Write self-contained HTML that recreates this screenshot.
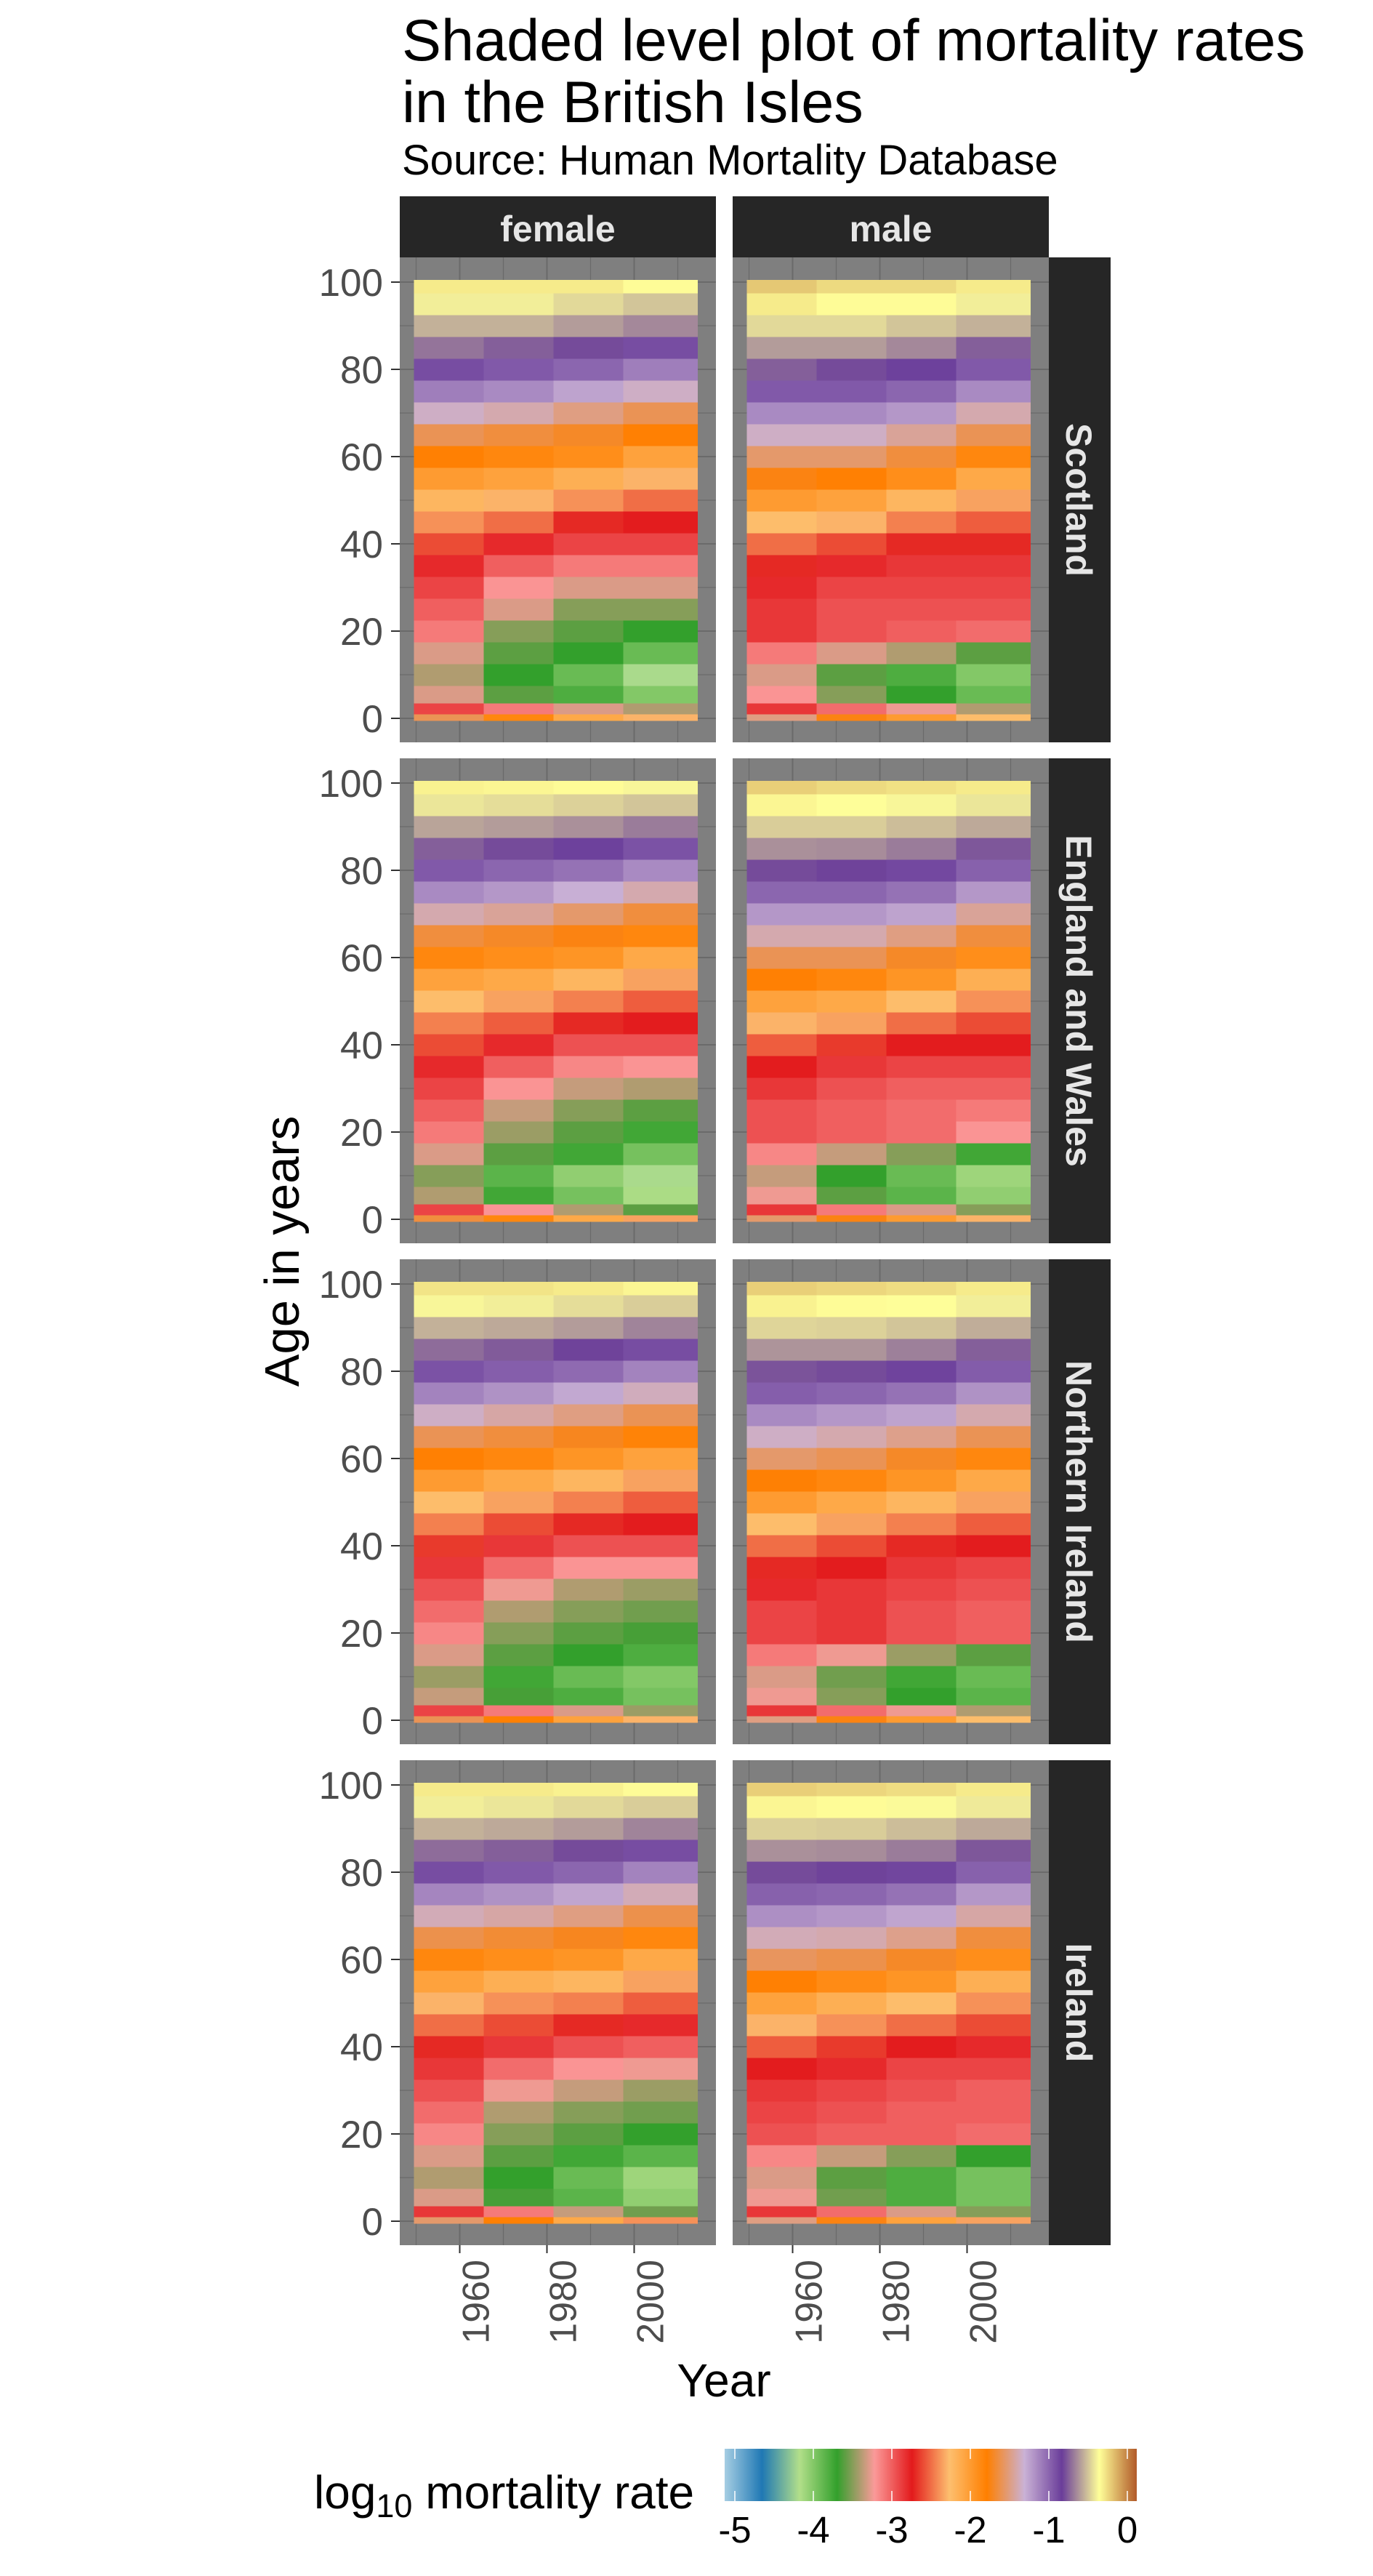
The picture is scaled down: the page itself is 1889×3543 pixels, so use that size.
<!DOCTYPE html>
<html><head><meta charset="utf-8"><style>
html,body{margin:0;padding:0;background:#fff;}
svg{display:block;font-family:"Liberation Sans",Arial,sans-serif;}
</style></head><body>
<svg id="chart" width="1889" height="3543" viewBox="0 0 1889 3543" xmlns="http://www.w3.org/2000/svg">
<text x="553" y="83" font-size="81" fill="#000">Shaded level plot of mortality rates</text>
<text x="553" y="168" font-size="81" fill="#000">in the British Isles</text>
<text x="553" y="240" font-size="58" fill="#000">Source: Human Mortality Database</text>
<text transform="translate(411,1721) rotate(-90)" text-anchor="middle" font-size="67" fill="#000">Age in years</text>
<text x="996" y="3296" text-anchor="middle" font-size="64" fill="#000">Year</text>
<text x="432" y="3450" font-size="64" fill="#000">log<tspan font-size="45" dy="12">10</tspan><tspan dy="-12"> mortality rate</tspan></text>
<g id="panels"></g>
<g id="legend"></g>
</svg>
<script>
const paletteColors = ["#a6cee3","#1f78b4","#b2df8a","#33a02c","#fb9a99","#e31a1c","#fdbf6f","#ff7f00","#cab2d6","#6a3d9a","#ffff99","#b15928"];
const legendTicks = [-5,-4,-3,-2,-1,0];
const legendTickLabels = ["-5","-4","-3","-2","-1","0"];
const sexes = ["female","male"];
const countries = ["Scotland","England and Wales","Northern Ireland","Ireland"];
const ages = [0,2,5,10,15,20,25,30,35,40,45,50,55,60,65,70,75,80,85,90,95,100];
const yearStart = [1950,1966,1982,1998];
const yearEnd = [1965,1981,1997,2014];
const yearTicks = [1960,1980,2000];
const yearTickLabels = ["1960","1980","2000"];
const ageTicks = [0,20,40,60,80,100];
const ageTickLabels = ["0","20","40","60","80","100"];

const scotlandFemale = [[-1.6,-1.85,-2.1,-2.3],[-2.9,-3.1,-3.3,-3.4],[-3.3,-3.6,-3.8,-4.0],[-3.4,-3.7,-3.9,-4.2],[-3.3,-3.6,-3.7,-3.9],[-3.1,-3.5,-3.6,-3.7],[-3.0,-3.3,-3.5,-3.5],[-2.9,-3.2,-3.3,-3.3],[-2.8,-3.0,-3.1,-3.1],[-2.6,-2.8,-2.9,-2.9],[-2.4,-2.5,-2.7,-2.75],[-2.2,-2.3,-2.4,-2.5],[-2.0,-2.05,-2.15,-2.3],[-1.8,-1.85,-1.9,-2.05],[-1.6,-1.65,-1.7,-1.8],[-1.35,-1.4,-1.5,-1.6],[-1.1,-1.15,-1.25,-1.35],[-0.9,-0.95,-1.0,-1.1],[-0.7,-0.75,-0.8,-0.9],[-0.55,-0.55,-0.6,-0.65],[-0.4,-0.4,-0.45,-0.5],[-0.3,-0.3,-0.3,-0.35]];
const scotlandMale = [[-1.5,-1.75,-2.0,-2.25],[-2.85,-3.05,-3.25,-3.4],[-3.2,-3.5,-3.7,-3.9],[-3.3,-3.6,-3.8,-4.0],[-3.1,-3.3,-3.4,-3.6],[-2.85,-2.95,-3.0,-3.05],[-2.85,-2.95,-2.95,-2.95],[-2.8,-2.9,-2.9,-2.9],[-2.7,-2.8,-2.85,-2.85],[-2.5,-2.6,-2.7,-2.7],[-2.25,-2.3,-2.45,-2.55],[-2.0,-2.05,-2.2,-2.35],[-1.75,-1.8,-1.9,-2.1],[-1.55,-1.55,-1.65,-1.85],[-1.35,-1.35,-1.45,-1.6],[-1.15,-1.15,-1.2,-1.4],[-0.95,-0.95,-1.0,-1.15],[-0.75,-0.8,-0.85,-0.95],[-0.6,-0.6,-0.65,-0.75],[-0.45,-0.45,-0.5,-0.55],[-0.3,-0.35,-0.35,-0.4],[-0.2,-0.25,-0.25,-0.3]];
const englandFemale = [[-1.65,-1.85,-2.1,-2.35],[-2.9,-3.2,-3.4,-3.6],[-3.4,-3.75,-3.95,-4.15],[-3.5,-3.85,-4.05,-4.2],[-3.3,-3.6,-3.75,-3.95],[-3.1,-3.45,-3.6,-3.75],[-3.0,-3.35,-3.5,-3.6],[-2.9,-3.2,-3.35,-3.4],[-2.8,-3.0,-3.15,-3.2],[-2.6,-2.8,-2.95,-2.95],[-2.45,-2.55,-2.7,-2.75],[-2.25,-2.35,-2.45,-2.55],[-2.05,-2.1,-2.2,-2.35],[-1.85,-1.9,-1.95,-2.1],[-1.65,-1.7,-1.75,-1.85],[-1.4,-1.45,-1.55,-1.65],[-1.15,-1.2,-1.3,-1.4],[-0.95,-1.0,-1.05,-1.15],[-0.75,-0.8,-0.85,-0.92],[-0.58,-0.6,-0.63,-0.68],[-0.42,-0.44,-0.47,-0.5],[-0.32,-0.33,-0.35,-0.38]];
const englandMale = [[-1.55,-1.75,-2.0,-2.3],[-2.85,-3.1,-3.3,-3.5],[-3.25,-3.6,-3.85,-4.05],[-3.35,-3.7,-3.9,-4.1],[-3.15,-3.35,-3.5,-3.75],[-2.95,-3.0,-3.05,-3.2],[-2.95,-3.0,-3.05,-3.1],[-2.85,-2.95,-3.0,-3.0],[-2.75,-2.85,-2.9,-2.9],[-2.55,-2.65,-2.75,-2.75],[-2.3,-2.35,-2.5,-2.6],[-2.05,-2.1,-2.25,-2.4],[-1.8,-1.85,-1.95,-2.15],[-1.6,-1.6,-1.7,-1.9],[-1.4,-1.4,-1.5,-1.65],[-1.2,-1.2,-1.25,-1.45],[-1.0,-1.0,-1.05,-1.2],[-0.8,-0.82,-0.88,-0.98],[-0.63,-0.64,-0.68,-0.77],[-0.48,-0.48,-0.52,-0.57],[-0.33,-0.36,-0.38,-0.42],[-0.22,-0.25,-0.27,-0.3]];
const nirelandFemale = [[-1.6,-1.8,-2.05,-2.3],[-2.9,-3.1,-3.3,-3.45],[-3.35,-3.65,-3.8,-3.95],[-3.45,-3.75,-3.9,-4.0],[-3.3,-3.6,-3.7,-3.8],[-3.15,-3.5,-3.6,-3.65],[-3.05,-3.4,-3.5,-3.55],[-2.95,-3.25,-3.4,-3.45],[-2.85,-3.05,-3.2,-3.2],[-2.65,-2.85,-2.95,-2.95],[-2.45,-2.6,-2.7,-2.75],[-2.25,-2.35,-2.45,-2.55],[-2.0,-2.1,-2.2,-2.35],[-1.8,-1.85,-1.95,-2.05],[-1.6,-1.65,-1.72,-1.82],[-1.35,-1.42,-1.5,-1.6],[-1.12,-1.18,-1.27,-1.37],[-0.92,-0.97,-1.02,-1.12],[-0.72,-0.76,-0.82,-0.9],[-0.55,-0.57,-0.6,-0.66],[-0.38,-0.4,-0.44,-0.48],[-0.28,-0.28,-0.3,-0.33]];
const nirelandMale = [[-1.5,-1.75,-2.0,-2.25],[-2.85,-3.05,-3.25,-3.4],[-3.25,-3.5,-3.7,-3.85],[-3.3,-3.55,-3.75,-3.9],[-3.1,-3.25,-3.45,-3.6],[-2.9,-2.85,-2.95,-3.0],[-2.9,-2.85,-2.95,-3.0],[-2.8,-2.85,-2.9,-2.95],[-2.7,-2.75,-2.85,-2.9],[-2.5,-2.6,-2.7,-2.75],[-2.25,-2.35,-2.45,-2.55],[-2.0,-2.1,-2.2,-2.35],[-1.78,-1.85,-1.95,-2.1],[-1.55,-1.6,-1.7,-1.85],[-1.35,-1.4,-1.48,-1.6],[-1.15,-1.2,-1.25,-1.4],[-0.97,-1.0,-1.05,-1.18],[-0.78,-0.8,-0.86,-0.96],[-0.62,-0.62,-0.67,-0.75],[-0.46,-0.47,-0.5,-0.56],[-0.32,-0.35,-0.36,-0.4],[-0.22,-0.24,-0.26,-0.3]];
const irelandFemale = [[-1.55,-1.8,-2.1,-2.4],[-2.85,-3.1,-3.35,-3.55],[-3.3,-3.65,-3.85,-4.05],[-3.4,-3.7,-3.9,-4.1],[-3.3,-3.6,-3.75,-3.85],[-3.15,-3.5,-3.6,-3.7],[-3.05,-3.4,-3.5,-3.55],[-2.95,-3.25,-3.35,-3.45],[-2.85,-3.05,-3.2,-3.25],[-2.7,-2.85,-2.95,-3.0],[-2.5,-2.6,-2.7,-2.8],[-2.3,-2.4,-2.45,-2.55],[-2.05,-2.15,-2.2,-2.35],[-1.85,-1.9,-1.95,-2.1],[-1.62,-1.67,-1.72,-1.85],[-1.38,-1.42,-1.5,-1.62],[-1.13,-1.18,-1.26,-1.38],[-0.9,-0.95,-1.0,-1.12],[-0.72,-0.75,-0.8,-0.9],[-0.55,-0.57,-0.6,-0.66],[-0.4,-0.42,-0.45,-0.48],[-0.3,-0.3,-0.32,-0.35]];
const irelandMale = [[-1.5,-1.75,-2.05,-2.35],[-2.85,-3.05,-3.3,-3.5],[-3.25,-3.55,-3.8,-3.95],[-3.3,-3.6,-3.8,-3.95],[-3.15,-3.35,-3.5,-3.7],[-2.95,-3.0,-3.0,-3.05],[-2.9,-2.95,-3.0,-3.0],[-2.85,-2.9,-2.95,-3.0],[-2.75,-2.8,-2.9,-2.9],[-2.55,-2.65,-2.75,-2.8],[-2.3,-2.4,-2.5,-2.6],[-2.05,-2.15,-2.25,-2.4],[-1.8,-1.88,-1.95,-2.15],[-1.58,-1.62,-1.7,-1.9],[-1.38,-1.4,-1.48,-1.65],[-1.17,-1.2,-1.26,-1.42],[-0.98,-1.0,-1.05,-1.2],[-0.8,-0.82,-0.87,-0.98],[-0.63,-0.64,-0.68,-0.77],[-0.47,-0.48,-0.52,-0.57],[-0.33,-0.35,-0.37,-0.41],[-0.22,-0.24,-0.26,-0.3]];
const panelData = [[scotlandFemale,scotlandMale],[englandFemale,englandMale],[nirelandFemale,nirelandMale],[irelandFemale,irelandMale]];

const NS = "http://www.w3.org/2000/svg";
const colX = [550, 1008], panelW = 435;
const rowY = [354, 1043, 1732, 2421], panelH = 667;
const vMin = -5.13, vMax = 0.12;
function xScale(col, year){ return colX[col] + 19.5 + (year - 1949.5) * 6; }
function yScale(row, age){ return rowY[row] + 34 + (100 - age) * 6; }
function legX(v){ return 1011 + (v + 5) * 108; }
function hexToRgb(h){ return [parseInt(h.slice(1,3),16),parseInt(h.slice(3,5),16),parseInt(h.slice(5,7),16)]; }
function colorFor(v){
  let t = (v - vMin) / (vMax - vMin) * (paletteColors.length - 1);
  t = Math.max(0, Math.min(paletteColors.length - 1, t));
  const i = Math.min(paletteColors.length - 2, Math.floor(t)), f = t - i;
  const a = hexToRgb(paletteColors[i]), b = hexToRgb(paletteColors[i+1]);
  return "rgb(" + a.map((c,k)=>Math.round(c + (b[k]-c)*f)).join(",") + ")";
}
function mk(tag, attrs, parent){
  const e = document.createElementNS(NS, tag);
  for (const k in attrs) e.setAttribute(k, attrs[k]);
  parent.appendChild(e);
  return e;
}
const panels = document.getElementById("panels");
// column strips
sexes.forEach((s, c) => {
  const r = mk("rect", {x: colX[c], y: 270, width: panelW, height: 84, fill: "#262626"}, panels);
  
  
  const t = mk("text", {x: colX[c] + panelW/2, y: 332, "text-anchor": "middle", "font-size": 50, "font-weight": "bold", fill: "#e6e6e6"}, panels);
  
  
  t.textContent = s;
});
countries.forEach((cn, r) => {
  const slug = cn.toLowerCase().replace(/ /g, '-');
  const st = mk("rect", {x: 1443, y: rowY[r], width: 85, height: panelH, fill: "#262626"}, panels);
  
  
  const stt = mk("text", {transform: "translate(1467," + (rowY[r] + panelH/2) + ") rotate(90)", "text-anchor": "middle", "font-size": 50, "font-weight": "bold", fill: "#e6e6e6"}, panels);
  
  
  stt.textContent = cn;
  // y ticks
  ageTicks.forEach((a, i) => {
    const y = yScale(r, a);
    const tk = mk("line", {x1: 538, x2: 550, y1: y, y2: y, stroke: "#333", "stroke-width": 2}, panels);
    
    
    const tl = mk("text", {x: 527, y: y + 19, "text-anchor": "end", "font-size": 53, fill: "#4d4d4d"}, panels);
    
    
    tl.textContent = ageTickLabels[i];
  });
  sexes.forEach((s, c) => {
    const g = mk("g", {}, panels);
    
    
    mk("rect", {x: colX[c], y: rowY[r], width: panelW, height: panelH, fill: "#7f7f7f"}, g);
    for (let yr = 1950; yr <= 2010; yr += 10) {
      const x = xScale(c, yr);
      mk("line", {x1: x, x2: x, y1: rowY[r], y2: rowY[r] + panelH, stroke: "#6a6a6a", "stroke-width": yr % 20 === 0 ? 2 : 1.2}, g);
    }
    for (let a = 0; a <= 100; a += 10) {
      const y = yScale(r, a);
      mk("line", {x1: colX[c], x2: colX[c] + panelW, y1: y, y2: y, stroke: "#6a6a6a", "stroke-width": a % 20 === 0 ? 2 : 1.2}, g);
    }
    const vals = panelData[r][c];
    ages.forEach((a, ai) => {
      const lo = ai === 0 ? a - 0.5 : (ages[ai-1] + a) / 2;
      const hi = ai === ages.length - 1 ? a + 0.5 : (ages[ai+1] + a) / 2;
      yearStart.forEach((ys, yi) => {
        const x0 = xScale(c, ys - 0.5), x1 = xScale(c, yearEnd[yi] + 0.5);
        const y0 = yScale(r, hi), y1 = yScale(r, lo);
        const cell = mk("rect", {x: x0, y: y0, width: x1 - x0 + 0.5, height: y1 - y0 + 0.5, fill: colorFor(vals[ai][yi]), "shape-rendering": "crispEdges"}, g);
        
        
      });
    });
  });
});
// x ticks on bottom row
sexes.forEach((s, c) => {
  yearTicks.forEach((yr, i) => {
    const x = xScale(c, yr);
    const tk = mk("line", {x1: x, x2: x, y1: 3088, y2: 3099, stroke: "#333", "stroke-width": 2}, panels);
    
    
    const tl = mk("text", {transform: "translate(" + (x + 40) + ",3108) rotate(-90)", "text-anchor": "end", "font-size": 52, fill: "#4d4d4d"}, panels);
    
    
    tl.textContent = yearTickLabels[i];
  });
});
// legend colorbar
const leg = document.getElementById("legend");
const defs = mk("defs", {}, leg);
const grad = mk("linearGradient", {id: "cbar", x1: "0", x2: "1", y1: "0", y2: "0"}, defs);
paletteColors.forEach((col, i) => {
  mk("stop", {offset: (i / (paletteColors.length - 1) * 100) + "%", "stop-color": col}, grad);
});
const bar = mk("rect", {x: legX(vMin), y: 3368, width: legX(vMax) - legX(vMin), height: 72, fill: "url(#cbar)"}, leg);


legendTicks.forEach((v, i) => {
  const x = legX(v);
  mk("line", {x1: x, x2: x, y1: 3368, y2: 3382, stroke: "#fff", "stroke-width": 1.5}, leg);
  mk("line", {x1: x, x2: x, y1: 3426, y2: 3440, stroke: "#fff", "stroke-width": 1.5}, leg);
  const t = mk("text", {x: x, y: 3497, "text-anchor": "middle", "font-size": 51, fill: "#000"}, leg);
  
  
  t.textContent = legendTickLabels[i];
});
</script>
</body></html>
